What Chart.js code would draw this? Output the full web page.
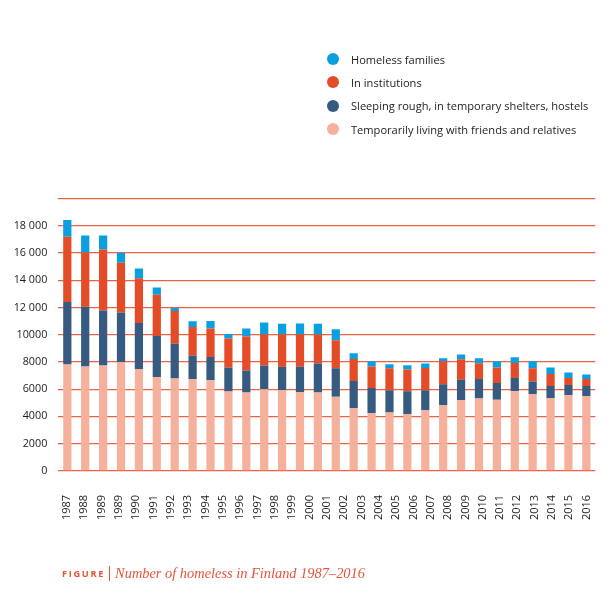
<!DOCTYPE html>
<html>
<head>
<meta charset="utf-8">
<script src="https://cdn.jsdelivr.net/npm/chart.js@4.4.1/dist/chart.umd.min.js"></script>
<style>
  html, body { margin: 0; padding: 0; background: #ffffff; }
  #wrap { position: relative; width: 611px; height: 611px; overflow: hidden; }
  #c { position: absolute; left: 0; top: 0; }
  #legend { position: absolute; left: 0; top: 0; width: 611px; height: 150px; pointer-events: none; }
  .lg-row { position: absolute; left: 327px; height: 16px; display: flex; align-items: center;
            font-family: "Open Sans", "Noto Sans", sans-serif; font-size: 11.1px; color: #1d1d1b; white-space: nowrap; }
  .lg-dot { width: 12px; height: 12px; border-radius: 50%; margin-right: 12px; flex: none; }
  #caption { position: absolute; left: 62px; top: 563px; height: 20px; display: flex; align-items: center; white-space: nowrap; color: #e5553a; }
  #caption .fig { font-family: "Open Sans", "Noto Sans", sans-serif; font-weight: 700; font-size: 9.2px; letter-spacing: 1.7px; }
  #caption .bar { width: 1px; height: 15px; background: #e5553a; margin: 0 5px 0 4px; }
  #caption .ttl { font-family: "Liberation Serif", "DejaVu Serif", serif; font-style: italic; font-size: 14.4px; }
</style>
</head>
<body>
<div id="wrap">
  <canvas id="c" width="611" height="611"></canvas>
  <div id="legend"></div>
  <div id="caption"><span class="fig">FIGURE</span><span class="bar"></span><span class="ttl">Number of homeless in Finland 1987–2016</span></div>
</div>
<script>
// ---- data ----
const years = [1987,1988,1989,1990,1991,1992,1993,1994,1995,1996,1997,1998,1999,2000,2001,
               2002,2003,2004,2005,2006,2007,2008,2009,2010,2011,2012,2013,2014,2015,2016];
// tick labels exactly as printed under the bars (the reference repeats 1989)
const xTickLabels = ['1987','1988','1989','1989','1990','1991','1992','1993','1994','1995','1996',
                     '1997','1998','1999','2000','2001','2002','2003','2004','2005','2006','2007',
                     '2008','2009','2010','2011','2012','2013','2014','2015','2016'];
const yTickLabels = { 0:'0', 2000:'2000', 4000:'4000', 6000:'6000', 8000:'8000', 10000:'10000',
                      12000:'12 000', 14000:'14 000', 16000:'16 000', 18000:'18 000', 20000:'' };

const temporarily   = [7810,7660,7740,7980,7490,6880,6780,6730,6650,5820,5750,5990,5920,5800,5750,
                       5450,4620,4230,4280,4180,4470,4840,5210,5310,5230,5850,5650,5330,5550,5500];
const sleepingRough = [4600,4390,4040,3650,3380,3030,2550,1740,1720,1770,1620,1750,1720,1840,2130,
                       2090,1980,1860,1640,1670,1450,1520,1490,1440,1230,970,910,910,760,740];
const institutions  = [4780,3990,4480,3650,3280,3020,2420,2100,2080,2130,2500,2270,2370,2370,2130,
                       2060,1620,1570,1620,1590,1640,1690,1500,1150,1130,1110,980,880,510,510];
const families      = [1230,1250,1030,740,720,540,220,420,560,340,580,890,790,810,790,
                       800,420,390,290,320,320,220,340,370,460,420,510,470,400,320];

const seriesNames = ['Temporarily living with friends and relatives',
                     'Sleeping rough, in temporary shelters, hostels',
                     'In institutions',
                     'Homeless families'];
const seriesColors = ['#f5b19b', '#365a80', '#e34c26', '#0aa0e0'];

const seriesData = [temporarily, sleepingRough, institutions, families];

const chart = new Chart(document.getElementById('c'), {
  type: 'bar',
  data: {
    labels: years.map(String),
    datasets: seriesData.map((d, i) => ({
      label: seriesNames[i],
      data: d,
      backgroundColor: seriesColors[i],
      borderWidth: 0,
      xAxisID: 'x',
      yAxisID: 'y',
      barPercentage: 0.46,
      categoryPercentage: 1.0
    }))
  },
  options: {
    responsive: false,
    animation: false,
    layout: { padding: { left: 2.7, right: 15.7, top: 198.6, bottom: 75 } },
    plugins: {
      legend: { display: false },
      tooltip: { enabled: false },
      title: { display: false }
    },
    scales: {
      x: {
        display: false,
        stacked: true,
        offset: true
      },
      x2: {
        type: 'category',
        position: 'bottom',
        labels: xTickLabels,
        offset: true,
        grid: { display: false },
        border: { display: false },
        afterFit: (scale) => { scale.paddingLeft = 0; scale.paddingRight = 0; },
        ticks: {
          autoSkip: false,
          minRotation: 90,
          maxRotation: 90,
          padding: 16,
          color: '#1d1d1b',
          font: { family: '"Open Sans", "Noto Sans", sans-serif', size: 11 }
        }
      },
      y: {
        stacked: true,
        min: 0,
        max: 20000,
        border: { display: false },
        grid: { color: '#ea6444', lineWidth: 1.3, drawTicks: false },
        ticks: {
          stepSize: 2000,
          padding: 11,
          color: '#1d1d1b',
          font: { family: '"Open Sans", "Noto Sans", sans-serif', size: 10.8 },
          callback: (v) => yTickLabels[v] !== undefined ? yTickLabels[v] : String(v)
        }
      }
    }
  }
});

// HTML legend built from the chart's datasets (top to bottom = reverse stacking order)
const legendEl = document.getElementById('legend');
const rowCenters = [59, 82, 105.5, 129];
chart.data.datasets.slice().reverse().forEach((ds, i) => {
  const row = document.createElement('div');
  row.className = 'lg-row';
  row.style.top = (rowCenters[i] - 8) + 'px';
  const dot = document.createElement('span');
  dot.className = 'lg-dot';
  dot.style.background = ds.backgroundColor;
  const txt = document.createElement('span');
  txt.textContent = ds.label;
  row.appendChild(dot);
  row.appendChild(txt);
  legendEl.appendChild(row);
});
</script>
</body>
</html>
